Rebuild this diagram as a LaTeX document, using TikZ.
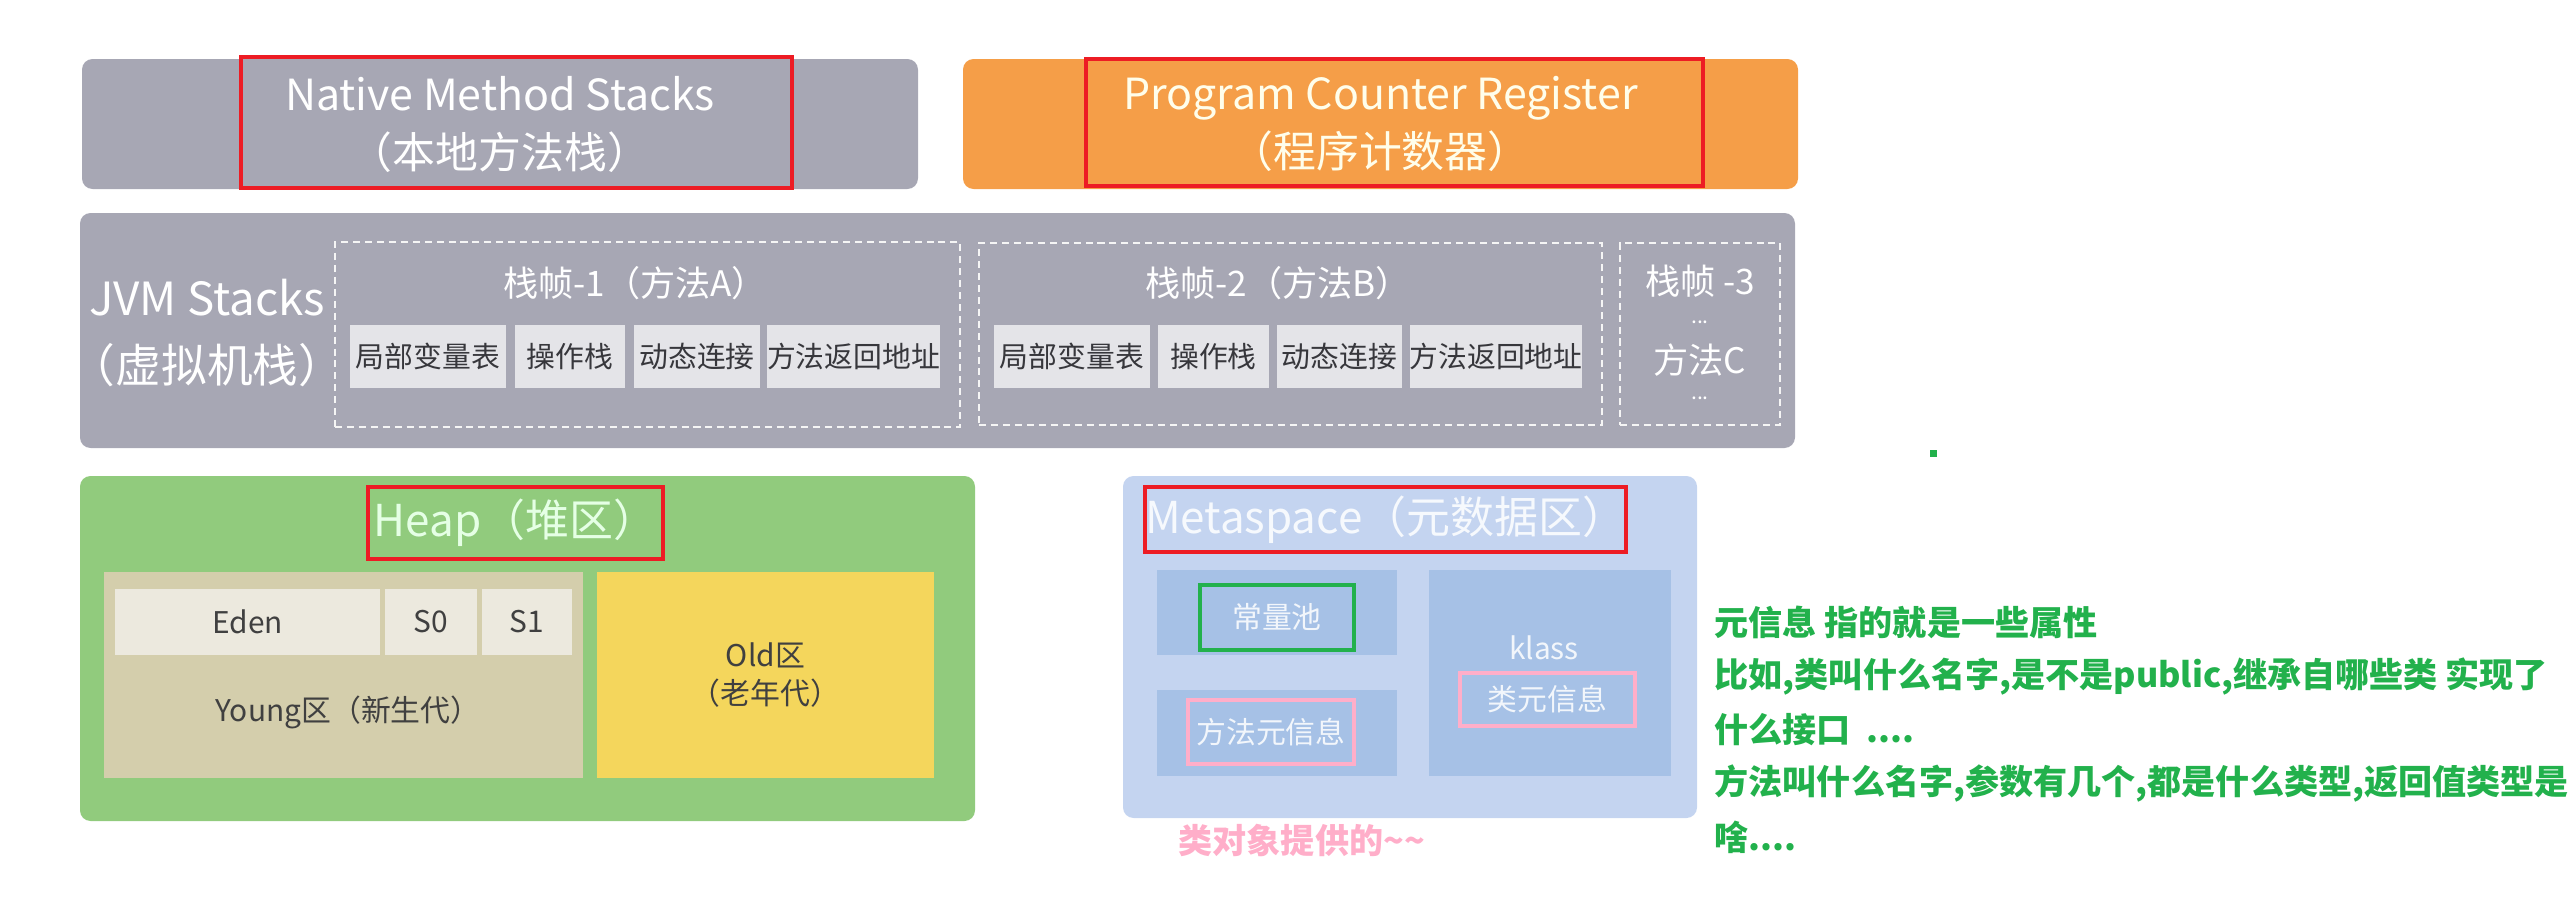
\documentclass[tikz,border=0pt]{standalone}
\usepackage{fontspec}
\setmainfont{Noto Sans CJK SC}

\definecolor{stackgray}{RGB}{167,167,180}
\definecolor{pcorange}{RGB}{245,158,72}
\definecolor{cellgray}{RGB}{228,228,232}
\definecolor{celltext}{RGB}{55,55,60}
\definecolor{heapgreen}{RGB}{145,203,125}
\definecolor{younggray}{RGB}{212,206,172}
\definecolor{edenlight}{RGB}{236,233,222}
\definecolor{oldyellow}{RGB}{244,214,92}
\definecolor{metablue}{RGB}{196,212,240}
\definecolor{metainner}{RGB}{166,193,230}
\definecolor{markred}{RGB}{237,28,36}
\definecolor{markgreen}{RGB}{34,177,76}
\definecolor{markpink}{RGB}{255,174,201}

\begin{document}
\begin{tikzpicture}[x=0.1mm, y=-0.1mm,
    area/.style={rounded corners=3pt, inner sep=0pt},
    plain/.style={inner sep=0pt},
    bigtext/.style={text=white, align=center, font=\fontsize{12.2}{16.5}\selectfont},
    frame/.style={draw=white!92!gray, dash pattern=on 2pt off 1.4pt, line width=0.7pt, inner sep=0pt},
    cell/.style={fill=cellgray, text=celltext, inner sep=0pt, minimum height=6.3mm,
                 font=\fontsize{8.2}{10}\selectfont},
    zone/.style={inner sep=0pt, text=black!75, font=\fontsize{8.5}{11}\selectfont, align=center},
    mark/.style={draw=#1, line width=1.2pt, inner sep=0pt},
    note/.style={anchor=west, inner sep=0pt, text=markgreen, font=\bfseries\fontsize{9.7}{12}\selectfont}]
  \useasboundingbox (0,0) rectangle (2575,908);

  % top row
  \node[area, fill=stackgray, bigtext, minimum width=83.6mm, minimum height=13mm] (native) at (500,124)
    {Native Method Stacks\\（本地方法栈）};
  \node[mark=markred, minimum width=55.1mm, minimum height=13.1mm] (nativemark) at (516.5,122.5) {};
  \node[area, fill=pcorange, bigtext, text=white!92!yellow, minimum width=83.5mm, minimum height=13mm] (pcr) at (1380.5,124)
    {Program Counter Register\\（程序计数器）};
  \node[mark=markred, minimum width=61.7mm, minimum height=12.7mm] (pcrmark) at (1394.5,122.5) {};

  % JVM stacks
  \node[area, fill=stackgray, minimum width=171.5mm, minimum height=23.5mm] (jvm) at (937.5,330.5) {};
  \node[plain, bigtext, font=\fontsize{13}{19}\selectfont] (jvmlabel) at (207,333) {JVM Stacks\\（虚拟机栈）};

  \node[frame, minimum width=62.5mm, minimum height=18.5mm] (frameA) at (647.5,334.5) {};
  \node[plain, text=white, font=\fontsize{10}{12}\selectfont] (frameAtitle) at (635,283) {栈帧-1（方法A）};
  \node[cell, minimum width=15.6mm] (localA) at (428,356.5) {局部变量表};
  \node[cell, minimum width=11mm] (opA) at (570,356.5) {操作栈};
  \node[cell, minimum width=12.6mm] (linkA) at (697,356.5) {动态连接};
  \node[cell, minimum width=16.9mm] (retA) at (853.5,356.5) {方法返回地址};

  \node[frame, minimum width=62.3mm, minimum height=18.2mm] (frameB) at (1290.5,334) {};
  \node[plain, text=white, font=\fontsize{10}{12}\selectfont] (frameBtitle) at (1278,283) {栈帧-2（方法B）};
  \node[cell, minimum width=15.6mm] (localB) at (1072,356.5) {局部变量表};
  \node[cell, minimum width=11.1mm] (opB) at (1213.5,356.5) {操作栈};
  \node[cell, minimum width=12.5mm] (linkB) at (1339.5,356.5) {动态连接};
  \node[cell, minimum width=17mm] (retB) at (1496,356.5) {方法返回地址};

  \node[frame, minimum width=16mm, minimum height=18.2mm] (frameC) at (1700,334) {};
  \node[plain, text=white, font=\fontsize{10}{12}\selectfont] (frameCtitle) at (1700,281) {栈帧 -3};
  \node[plain, text=white, font=\fontsize{6}{7}\selectfont] (dotsC1) at (1700,322) {...};
  \node[plain, text=white, font=\fontsize{10}{12}\selectfont] (methodC) at (1700,360) {方法C};
  \node[plain, text=white, font=\fontsize{6}{7}\selectfont] (dotsC2) at (1700,398) {...};

  % heap
  \node[area, fill=heapgreen, minimum width=89.5mm, minimum height=34.5mm] (heap) at (527.5,648.5) {};
  \node[mark=markred, text=white!90!green, font=\fontsize{12.5}{15}\selectfont,
        minimum width=29.5mm, minimum height=7.2mm] (heaplabel) at (515.5,523) {Heap（堆区）};
  \node[plain, fill=younggray, minimum width=47.9mm, minimum height=20.6mm] (young) at (343.5,675) {};
  \node[zone, fill=edenlight, minimum width=26.5mm, minimum height=6.6mm] (eden) at (247.5,622) {Eden};
  \node[zone, fill=edenlight, minimum width=9.2mm, minimum height=6.6mm] (szero) at (431,622) {S0};
  \node[zone, fill=edenlight, minimum width=9mm, minimum height=6.6mm] (sone) at (527,622) {S1};
  \node[zone] (younglabel) at (348,712) {Young区（新生代）};
  \node[zone, fill=oldyellow, minimum width=33.7mm, minimum height=20.6mm] (old) at (765.5,675)
    {Old区\\（老年代）};

  % metaspace
  \node[area, fill=metablue, minimum width=57.4mm, minimum height=34.2mm] (meta) at (1410,647) {};
  \node[mark=markred, text=white!85!metablue, font=\fontsize{12.5}{15}\selectfont,
        minimum width=47.9mm, minimum height=6.5mm] (metalabel) at (1385.5,519.5) {Metaspace（元数据区）};
  \node[plain, fill=metainner, minimum width=24mm, minimum height=8.5mm] (poolbox) at (1277,612.5) {};
  \node[plain, fill=metainner, minimum width=24mm, minimum height=8.6mm] (methodbox) at (1277,733) {};
  \node[plain, fill=metainner, minimum width=24.2mm, minimum height=20.6mm] (klassbox) at (1550,673) {};
  \node[mark=markgreen, text=white!85!metainner, font=\fontsize{8.5}{10}\selectfont,
        minimum width=15.4mm, minimum height=6.5mm] (pool) at (1277,617.5) {常量池};
  \node[mark=markpink, text=white!85!metainner, font=\fontsize{8.5}{10}\selectfont,
        minimum width=16.6mm, minimum height=6.4mm] (methodinfo) at (1271,732) {方法元信息};
  \node[plain, text=white!85!metainner, font=\fontsize{8.5}{10}\selectfont] (klass) at (1544,648) {klass};
  \node[mark=markpink, text=white!85!metainner, font=\fontsize{8.5}{10}\selectfont,
        minimum width=17.5mm, minimum height=5.3mm] (classinfo) at (1547.5,699.5) {类元信息};
  \node[plain, anchor=west, text=markpink, font=\bfseries\fontsize{9.7}{12}\selectfont] (provided) at (1178,840) {类对象提供的\textasciitilde\textasciitilde};

  % notes
  \node[plain, fill=markgreen, minimum size=0.7mm] (dot) at (1933,453) {};
  \node[note] (note1) at (1714,622) {元信息 指的就是一些属性};
  \node[note] (note2) at (1714,677) {比如,类叫什么名字,是不是public,继承自哪些类 实现了};
  \node[note] (note3) at (1714,730) {什么接口 \ ....};
  \node[note] (note4) at (1714,783) {方法叫什么名字,参数有几个,都是什么类型,返回值类型是};
  \node[note] (note5) at (1714,837) {啥....};
\end{tikzpicture}
\end{document}
